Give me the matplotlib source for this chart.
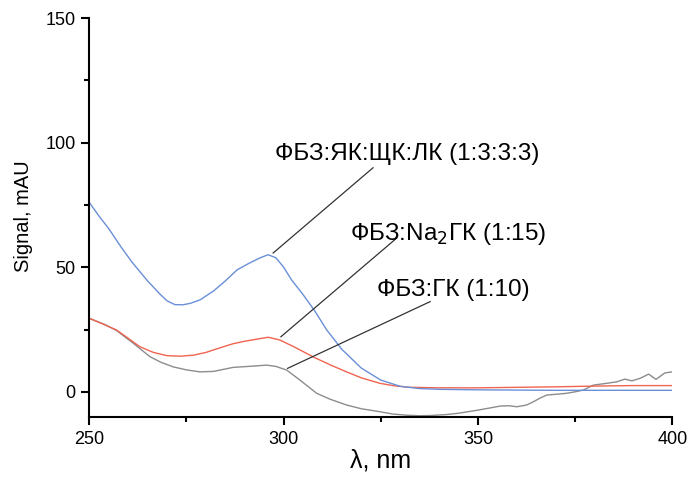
import matplotlib
matplotlib.use("Agg")
import matplotlib.pyplot as plt
from matplotlib.ticker import MultipleLocator

plt.rcParams['font.family'] = ['Liberation Sans', 'DejaVu Sans']

# Blue: ФБЗ:ЯК:ЩК:ЛК (1:3:3:3)
blue_x = [250, 252.5, 255, 258, 261, 265, 268, 270, 272, 274, 276, 278.5, 282, 285, 288, 291, 294, 296, 298,
          300, 302, 305, 308, 311, 315, 320, 325, 330, 335, 340, 350, 360, 370, 380, 390, 400]
blue_y = [76, 70.5, 65.5, 58.5, 52, 44.5, 39.5, 36.5, 35, 34.9, 35.5, 36.9, 40.5, 44.5, 48.9, 51.5, 53.8, 55, 53.8,
          50, 45, 39, 32.5, 25, 17, 9.5, 4.7, 2.2, 1.3, 1.0, 0.8, 0.7, 0.6, 0.6, 0.6, 0.6]

# Red: ФБЗ:Na2ГК (1:15)
red_x = [250, 253.5, 257, 260, 263, 266.5, 270, 273.5, 276.8, 280, 283.5, 287, 290, 293, 296,
         299, 303, 307.6, 312, 316.2, 320, 324.8, 328.5, 332.5, 340, 350, 360, 370, 380, 390, 400]
red_y = [29.5, 27.2, 24.8, 21.5, 18.1, 15.8, 14.5, 14.3, 14.7, 15.8, 17.6, 19.3, 20.3, 21.1, 21.9,
         20.8, 17.8, 14, 10.8, 8, 5.6, 3.4, 2.4, 1.8, 1.6, 1.6, 1.8, 2.0, 2.3, 2.5, 2.5]

# Gray: ФБЗ:ГК (1:10)
gray_x = [250, 254, 257, 261.3, 265.6, 268.5, 271.6, 275, 278.5, 282, 287, 291, 295.6, 298,
          300.8, 304.2, 308.5, 312, 316.2, 320, 324.8, 328, 331.7, 335, 338, 342, 345, 349.8,
          353, 355.8, 358, 360, 362.5, 364, 366, 367.7, 370, 372.8, 375, 377.1, 379.7, 383.1,
          385.7, 387.8, 389.6, 391.7, 393.9, 395.8, 398.1, 400]
gray_y = [29.5, 27, 24.6, 19.5, 14.1, 11.8, 10, 8.8, 8, 8.2, 9.8, 10.2, 10.7, 10.2,
          8.7, 4.7, -0.6, -3, -5.3, -6.8, -8, -8.9, -9.4, -9.6, -9.5, -9.1, -8.6, -7.4,
          -6.5, -5.7, -5.6, -6, -5.3, -4.2, -2.5, -1.3, -1.0, -0.6, 0.0, 0.7, 2.7, 3.4,
          4.0, 5.1, 4.4, 5.4, 7.1, 5.0, 7.6, 8.0]

labels = ["ФБЗ:ЯК:ЩК:ЛК (1:3:3:3)", "ФБЗ:Na$_2$ГК (1:15)", "ФБЗ:ГК (1:10)"]
xticks = [250, 300, 350, 400]
yticks = [0, 50, 100, 150]

fig = plt.figure(figsize=(6.89, 4.79), dpi=100)
ax = fig.add_axes([0.1296, 0.130, 0.8462, 0.8324])

ax.plot(gray_x, gray_y, color='#8c8c8c', lw=1.0)
ax.plot(red_x, red_y, color='#f06450', lw=1.0)
ax.plot(blue_x, blue_y, color='#6a8fd8', lw=1.0)

ax.set_xlim(250, 400)
ax.set_ylim(-10, 150)
ax.set_xticks(xticks)
ax.set_yticks(yticks)
ax.xaxis.set_minor_locator(MultipleLocator(25))
ax.yaxis.set_minor_locator(MultipleLocator(25))
for s in ['top', 'right']:
    ax.spines[s].set_visible(False)
for s in ['left', 'bottom']:
    ax.spines[s].set_linewidth(1.5)
ax.tick_params(which='major', direction='out', length=6, width=1.5, labelsize=13, pad=4)
ax.tick_params(which='minor', direction='out', length=3.5, width=1.5)

ax.set_xlabel("λ, nm", fontsize=18)
ax.xaxis.label.set_va('center')
ax.xaxis.set_label_coords(0.5, -0.109)
ax.set_ylabel("Signal, mAU", fontsize=14.5)
ax.yaxis.label.set_va('center')
ax.yaxis.set_label_coords(-0.112, 0.502)

ann = [
    (labels[0], (297.3, 55.7), (323.0, 89.9), (297.8, 95.5)),
    (labels[1], (299.3, 22.1), (329.1, 61.7), (317.1, 63.5)),
    (labels[2], (301.0, 9.4), (337.7, 36.2), (324.0, 40.7)),
]
for txt, p0, p1, tp in ann:
    ax.plot([p0[0], p1[0]], [p0[1], p1[1]], color='#333333', lw=0.9)
    ax.text(tp[0], tp[1], txt, fontsize=17.5, ha='left', va='center', color='black')

fig.savefig("out.png", dpi=100)
